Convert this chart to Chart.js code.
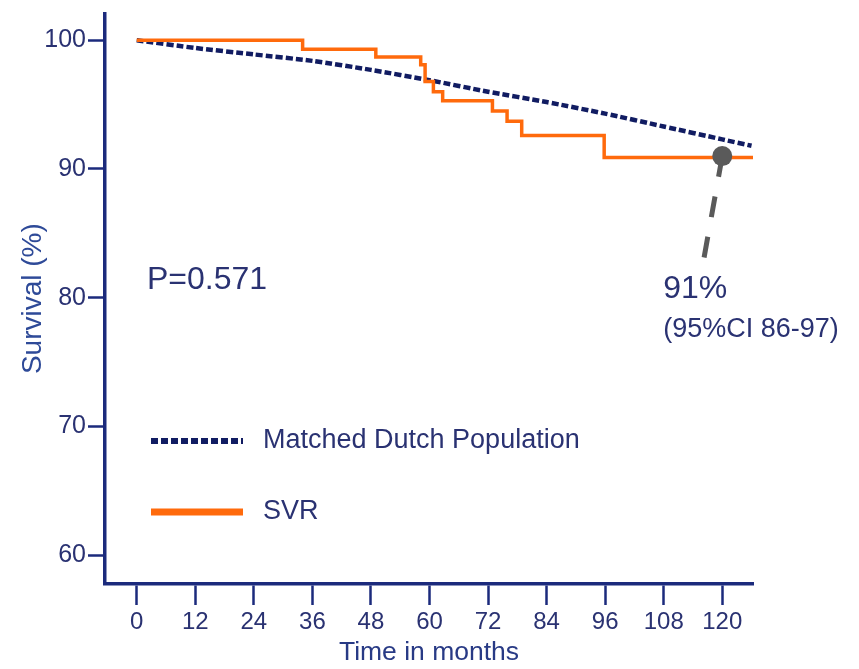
<!DOCTYPE html>
<html>
<head>
<meta charset="utf-8">
<script src="https://cdn.jsdelivr.net/npm/chart.js@4.4.1/dist/chart.umd.min.js"></script>
<style>
  body { margin: 0; background: #fff; }
  #wrap { width: 859px; height: 669px; }
</style>
</head>
<body>
<div id="wrap"><canvas id="survivalChart"></canvas></div>
<script>
// Values
const dutchMonths = [0, 12, 24, 36, 48, 60, 72, 84, 96, 108, 120, 126];
const dutchSurvival = [100, 99.4, 98.9, 98.4, 97.7, 96.9, 96.0, 95.2, 94.3, 93.3, 92.3, 91.8];

const svrMonths = [0, 34, 49, 58.2, 59.1, 60.8, 62.7, 72.9, 75.9, 78.9, 95.8, 126.3];
const svrSurvival = [100, 99.3, 98.7, 98.1, 96.8, 96.0, 95.3, 94.5, 93.7, 92.6, 90.9, 90.9];

const xTicks = [0, 12, 24, 36, 48, 60, 72, 84, 96, 108, 120];
const yTicks = [60, 70, 80, 90, 100];

const landmarkMonth = [120];
const landmarkSurvival = [91];

const pValueText = "P=0.571";
const landmarkText = "91%";
const landmarkCiText = "(95%CI 86-97)";

const navy = "#1b2a7c";
const textColor = "#2a3272";
const orange = "#ff6a0c";
const grey = "#5a5a5a";
const fontFamily = "'Liberation Sans', Arial, sans-serif";

Chart.defaults.font.family = fontFamily;

const toPoints = (xs, ys) => xs.map((x, i) => ({ x: x, y: ys[i] }));

// Legend, p-value and the 120-month call-out
const annotations = {
  id: "annotations",
  beforeDatasetsDraw(chart) {
    const { ctx, scales } = chart;
    const px = scales.x.getPixelForValue(landmarkMonth[0]);
    const py = scales.y.getPixelForValue(landmarkSurvival[0]);
    ctx.save();
    ctx.strokeStyle = grey;
    ctx.lineWidth = 5;
    ctx.setLineDash([21, 20]);
    ctx.beginPath();
    ctx.moveTo(px, py);
    ctx.lineTo(px - 19, py + 106);
    ctx.stroke();
    ctx.restore();
  },
  afterDatasetsDraw(chart) {
    const { ctx, scales } = chart;
    const px = scales.x.getPixelForValue(landmarkMonth[0]);
    const py = scales.y.getPixelForValue(landmarkSurvival[0]);
    ctx.save();
    ctx.fillStyle = textColor;
    ctx.textBaseline = "middle";
    ctx.textAlign = "left";

    ctx.font = "32px " + fontFamily;
    ctx.fillText(pValueText, 147, 280);

    ctx.font = "32px " + fontFamily;
    ctx.fillText(landmarkText, px - 59, py + 133);
    ctx.font = "27px " + fontFamily;
    ctx.fillText(landmarkCiText, px - 59, py + 173);

    // legend
    const items = [
      { ds: chart.data.datasets[2], y: 441, width: 6, dash: [7, 3] },
      { ds: chart.data.datasets[1], y: 512, width: 7, dash: [] }
    ];
    items.forEach(item => {
      ctx.strokeStyle = item.ds.borderColor;
      ctx.lineWidth = item.width;
      ctx.setLineDash(item.dash);
      ctx.beginPath();
      ctx.moveTo(151, item.y);
      ctx.lineTo(243, item.y);
      ctx.stroke();
      ctx.font = "27px " + fontFamily;
      ctx.fillText(item.ds.label, 263, item.y);
    });
    ctx.restore();
  }
};

new Chart(document.getElementById("survivalChart"), {
  type: "line",
  data: {
    datasets: [
      {
        label: "91% at 120 months",
        data: toPoints(landmarkMonth, landmarkSurvival),
        showLine: false,
        pointRadius: 10,
        pointBackgroundColor: grey,
        pointBorderWidth: 0,
        order: 0
      },
      {
        label: "SVR",
        data: toPoints(svrMonths, svrSurvival),
        borderColor: orange,
        borderWidth: 3.5,
        stepped: "before",
        pointRadius: 0,
        fill: false,
        order: 1
      },
      {
        label: "Matched Dutch Population",
        data: toPoints(dutchMonths, dutchSurvival),
        borderColor: "#111c62",
        borderWidth: 4.5,
        borderDash: [7, 3],
        tension: 0.2,
        pointRadius: 0,
        fill: false,
        order: 2
      }
    ]
  },
  options: {
    responsive: true,
    maintainAspectRatio: false,
    animation: false,
    layout: { padding: { top: 12, right: 106, left: 0, bottom: 0 } },
    plugins: {
      legend: { display: false },
      tooltip: { enabled: false }
    },
    scales: {
      x: {
        type: "linear",
        min: -6.5,
        max: 126.3,
        afterBuildTicks: scale => { scale.ticks = xTicks.map(v => ({ value: v })); },
        afterFit: scale => { scale.height = 85; },
        border: { color: navy, width: 3.5 },
        grid: { drawOnChartArea: false, drawTicks: true, tickLength: 21, tickWidth: 2.5, tickColor: navy },
        ticks: { color: textColor, font: { size: 24 }, padding: 3, maxRotation: 0 },
        title: { display: true, text: "Time in months", color: "#283a85", font: { size: 26.5 }, padding: { top: 0, bottom: 0 } }
      },
      y: {
        type: "linear",
        min: 57.75,
        max: 102.1,
        afterBuildTicks: scale => { scale.ticks = yTicks.map(v => ({ value: v })); },
        afterFit: scale => { scale.width = 105; },
        border: { color: navy, width: 3.5 },
        grid: { drawOnChartArea: false, drawTicks: true, tickLength: 17, tickWidth: 2.5, tickColor: navy },
        ticks: { color: textColor, font: { size: 25, lineHeight: 0.9 }, padding: 2 },
        title: { display: true, text: "Survival (%)", color: "#2e4a98", font: { size: 28 }, padding: { top: 16, bottom: 0 } }
      }
    }
  },
  plugins: [annotations]
});
</script>
</body>
</html>
